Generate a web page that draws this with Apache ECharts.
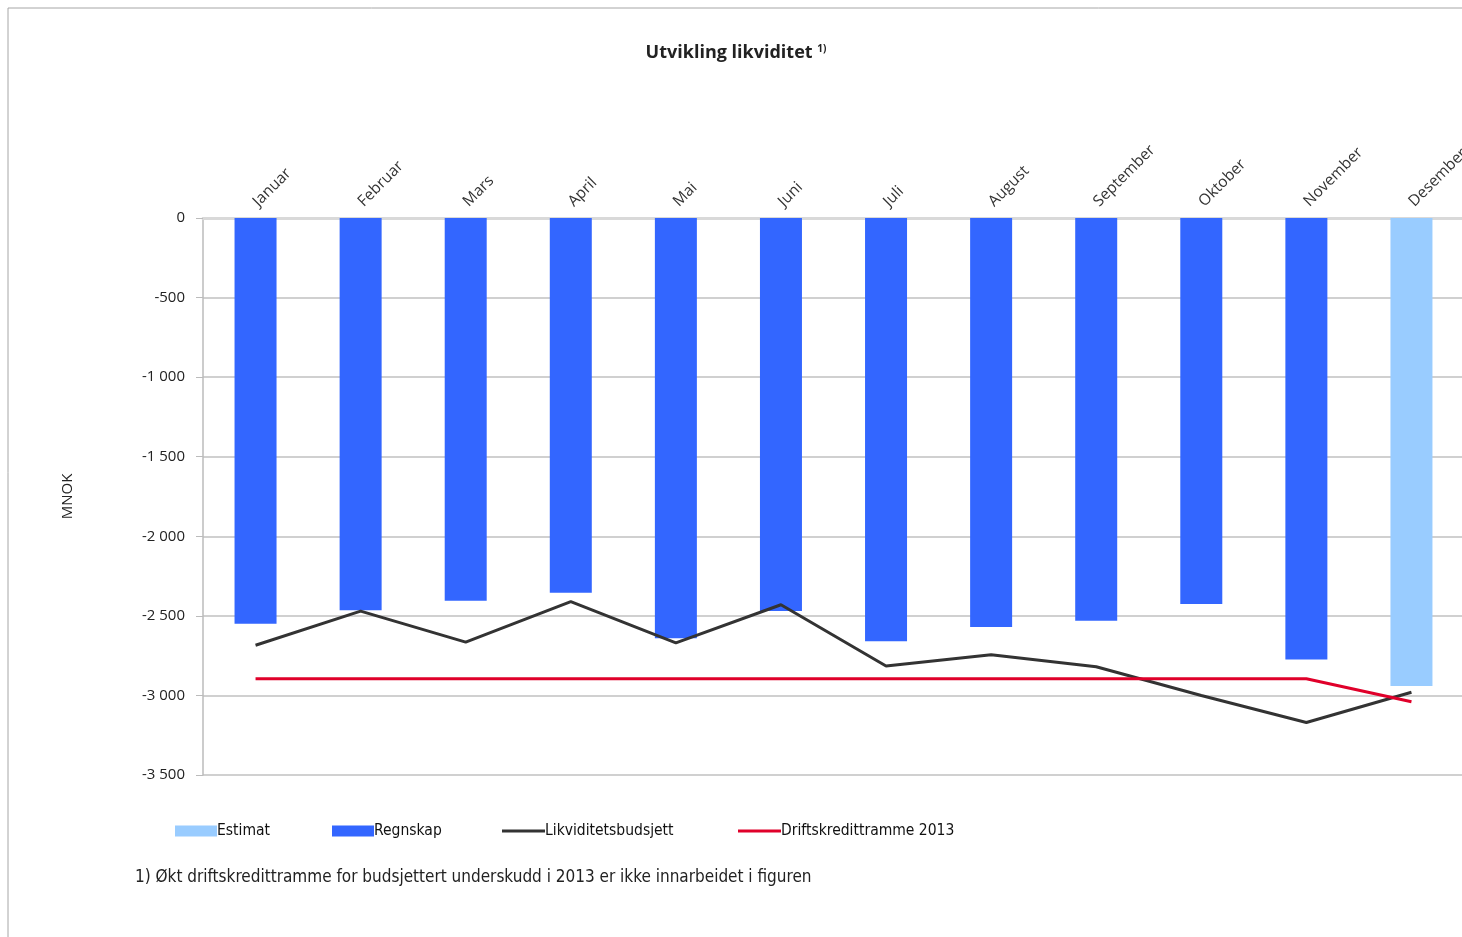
<!DOCTYPE html>
<html>
<head>
<meta charset="utf-8">
<script src="https://cdn.jsdelivr.net/npm/echarts@6/dist/echarts.min.js"></script>
<style>
  html, body { margin: 0; padding: 0; background: #fff; }
  #chart { width: 1462px; height: 937px; }
</style>
</head>
<body>
<div id="chart"></div>
<script>
const months = ["Januar", "Februar", "Mars", "April", "Mai", "Juni", "Juli", "August", "September", "Oktober", "November", "Desember"];
const regnskap = [-2550, -2465, -2405, -2355, -2640, -2470, -2660, -2570, -2530, -2425, -2775, null];
const estimat = [null, null, null, null, null, null, null, null, null, null, null, -2940];
const likviditetsbudsjett = [-2685, -2470, -2665, -2410, -2670, -2430, -2815, -2745, -2820, -3000, -3170, -2980];
const driftskreditt = [-2895, -2895, -2895, -2895, -2895, -2895, -2895, -2895, -2895, -2895, -2895, -3040];

const font = "'Liberation Sans Narrow', 'DejaVu Sans Condensed', 'Liberation Sans', sans-serif";

function fmt(v) {
  const s = String(Math.abs(v)).replace(/\B(?=(\d{3})+(?!\d))/g, " ");
  return (v < 0 ? "-" : "") + s;
}

const chart = echarts.init(document.getElementById("chart"), null, { renderer: "canvas" });

const legendText = { fontFamily: font, fontSize: 15.5, color: "#111", padding: [0, 0, 0, -5] };

chart.setOption({
  animation: false,
  title: {
    text: "Utvikling likviditet {s|1)}",
    left: 731,
    top: 39,
    textAlign: "center",
    textStyle: {
      fontFamily: "'Open Sans', sans-serif",
      fontSize: 18,
      fontWeight: "bold",
      color: "#222",
      rich: { s: { fontSize: 10, fontWeight: "bold", verticalAlign: "top", padding: [0, 0, 8, 0] } }
    }
  },
  legend: [
    { left: 170, top: 818, data: ["Estimat"], icon: "rect", itemWidth: 42, itemHeight: 11, textStyle: legendText },
    { left: 327, top: 818, data: ["Regnskap"], icon: "rect", itemWidth: 42, itemHeight: 11, textStyle: legendText },
    { left: 497, top: 818, data: ["Likviditetsbudsjett"], icon: "rect", itemWidth: 43, itemHeight: 3, textStyle: legendText },
    { left: 733, top: 818, data: ["Driftskredittramme 2013"], icon: "rect", itemWidth: 43, itemHeight: 3, textStyle: legendText }
  ],
  grid: { left: 203, top: 218, width: 1261, height: 557, containLabel: false, outerBoundsMode: "none" },
  xAxis: {
    type: "category",
    position: "top",
    data: months,
    axisLine: { lineStyle: { color: "#d9d9d9", width: 3 } },
    axisTick: { inside: true, length: 6, lineStyle: { color: "#bbb" } },
    axisLabel: {
      rotate: 45,
      margin: 14,
      fontFamily: "'Open Sans', sans-serif",
      fontSize: 15.5,
      color: "#333"
    },
    splitLine: { show: false }
  },
  yAxis: {
    type: "value",
    min: -3500,
    max: 0,
    interval: 500,
    name: "MNOK",
    nameLocation: "middle",
    nameGap: 128,
    nameTextStyle: { fontFamily: "'Open Sans', sans-serif", fontSize: 15, color: "#222" },
    axisLine: { show: true, lineStyle: { color: "#bbb", width: 1.5 } },
    axisTick: { show: true, length: 7, lineStyle: { color: "#bbb" } },
    axisLabel: {
      formatter: fmt,
      margin: 18,
      fontFamily: "'Open Sans', sans-serif",
      fontSize: 15,
      color: "#222"
    },
    splitLine: { lineStyle: { color: "#c0c0c0", width: 1.5 } }
  },
  series: [
    {
      name: "Estimat",
      type: "bar",
      stack: "b",
      data: estimat,
      barWidth: 42,
      itemStyle: { color: "#99ccff" }
    },
    {
      name: "Regnskap",
      type: "bar",
      stack: "b",
      data: regnskap,
      barWidth: 42,
      itemStyle: { color: "#3366ff" }
    },
    {
      name: "Likviditetsbudsjett",
      type: "line",
      data: likviditetsbudsjett,
      symbol: "none",
      lineStyle: { color: "#333333", width: 3 },
      itemStyle: { color: "#333333" }
    },
    {
      name: "Driftskredittramme 2013",
      type: "line",
      data: driftskreditt,
      symbol: "none",
      lineStyle: { color: "#e0002a", width: 3 },
      itemStyle: { color: "#e0002a" }
    }
  ],
  graphic: [
    {
      type: "polyline",
      silent: true,
      shape: { points: [[8, 937], [8, 8], [1462, 8]] },
      style: { stroke: "#a6a6a6", lineWidth: 1, fill: null }
    },
    {
      type: "text",
      left: 135,
      top: 869,
      silent: true,
      style: {
        text: "1) Økt driftskredittramme for budsjettert underskudd i 2013 er ikke innarbeidet i figuren",
        fontFamily: font,
        fontSize: 17,
        fill: "#222"
      }
    }
  ]
});
</script>
</body>
</html>
